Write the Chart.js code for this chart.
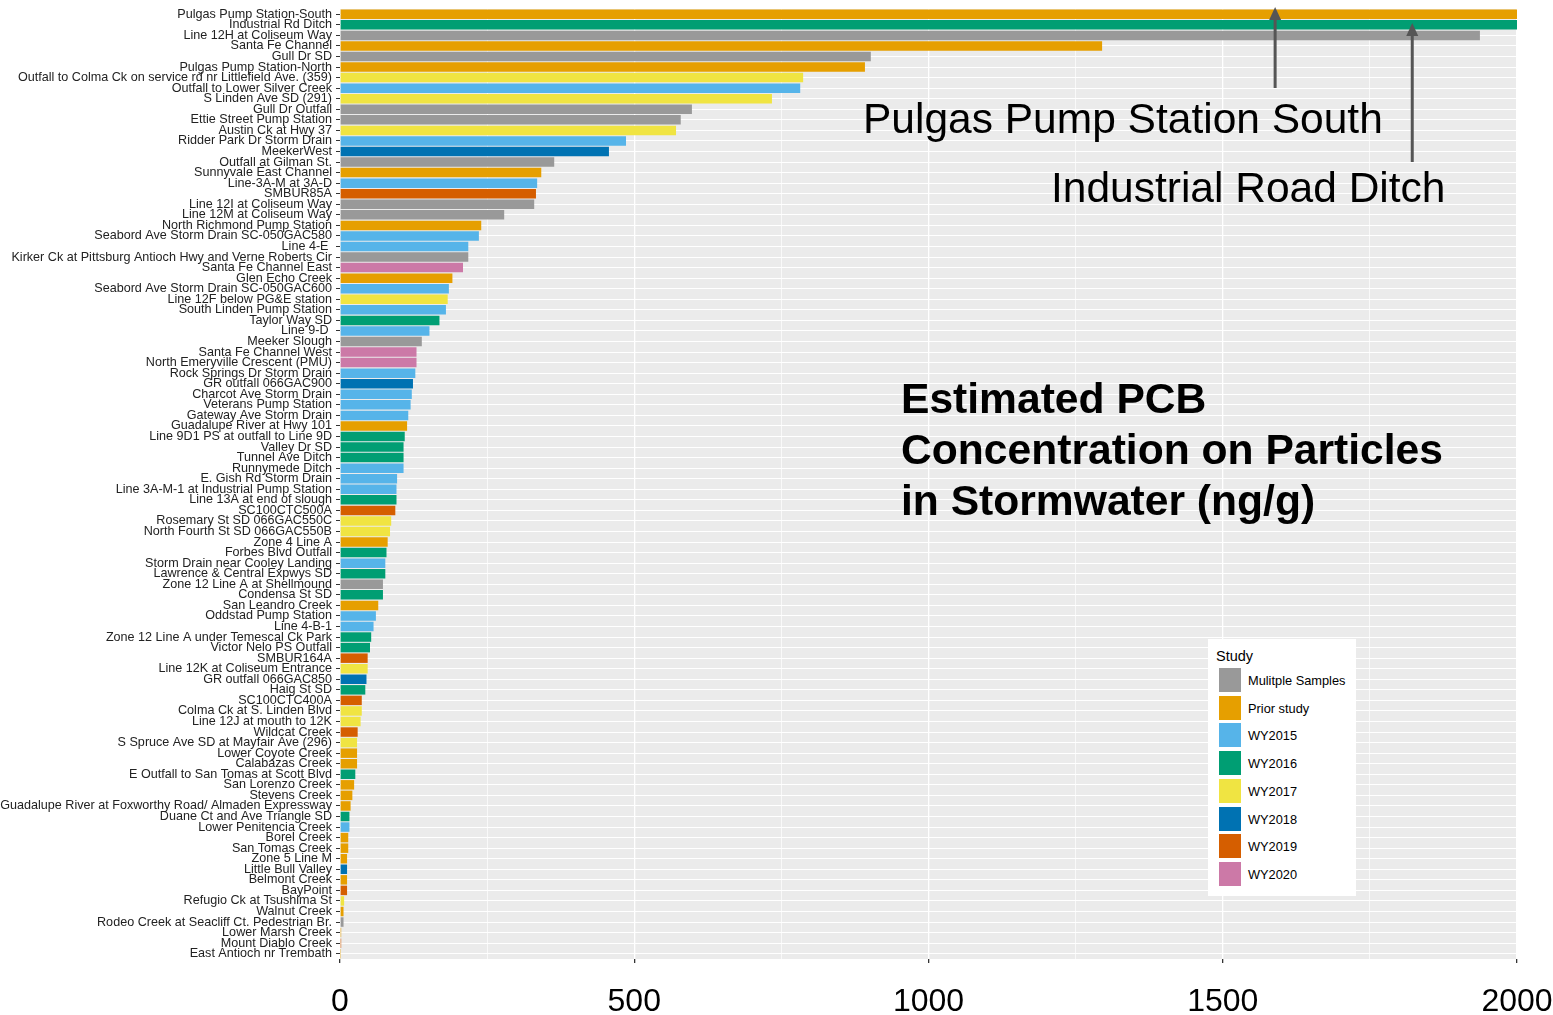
<!DOCTYPE html>
<html>
<head>
<meta charset="utf-8">
<script src="https://cdn.jsdelivr.net/npm/chart.js@4/dist/chart.umd.min.js"></script>
<style>
  html, body { margin: 0; padding: 0; background: #fff; }
  #wrap { position: relative; width: 1553px; height: 1015px; overflow: hidden; }
  canvas { position: absolute; left: 0; top: 0; }
  .ann { position: absolute; font-family: "Liberation Sans", Arial, sans-serif; color: #000; white-space: nowrap; }
  #legend { position: absolute; left: 1208px; top: 639px; width: 148px; height: 257px; background: #fff; font-family: "Liberation Sans", Arial, sans-serif; }
  #legend .title { position: absolute; left: 8px; top: 8px; font-size: 14.5px; line-height: 18px; color: #000; }
  #legend .key { position: absolute; left: 10px; width: 24px; height: 26px; box-sizing: border-box; border: 1px solid #fff; }
  #legend .lab { position: absolute; left: 40px; font-size: 12.8px; line-height: 16px; color: #000; }
</style>
</head>
<body>
<div id="wrap">
  <canvas id="c" width="1553" height="1015"></canvas>
  <div class="ann" style="left:863px; top:95px; font-size:42.5px; line-height:48px;">Pulgas Pump Station South</div>
  <div class="ann" style="left:1051px; top:164px; font-size:42.5px; line-height:48px;">Industrial Road Ditch</div>
  <div class="ann" style="left:901px; top:373px; font-size:42.6px; line-height:51px; font-weight:bold;">Estimated PCB<br>Concentration on Particles<br>in Stormwater (ng/g)</div>
  <div id="legend"></div>
</div>
<script>
const categories = [
  "Pulgas Pump Station-South", "Industrial Rd Ditch", "Line 12H at Coliseum Way", "Santa Fe Channel",
  "Gull Dr SD", "Pulgas Pump Station-North", "Outfall to Colma Ck on service rd nr Littlefield Ave. (359)",
  "Outfall to Lower Silver Creek", "S Linden Ave SD (291)", "Gull Dr Outfall", "Ettie Street Pump Station",
  "Austin Ck at Hwy 37", "Ridder Park Dr Storm Drain", "MeekerWest", "Outfall at Gilman St.",
  "Sunnyvale East Channel", "Line-3A-M at 3A-D", "SMBUR85A", "Line 12I at Coliseum Way",
  "Line 12M at Coliseum Way", "North Richmond Pump Station", "Seabord Ave Storm Drain SC-050GAC580",
  "Line 4-E ", "Kirker Ck at Pittsburg Antioch Hwy and Verne Roberts Cir", "Santa Fe Channel East",
  "Glen Echo Creek", "Seabord Ave Storm Drain SC-050GAC600", "Line 12F below PG&E station",
  "South Linden Pump Station", "Taylor Way SD", "Line 9-D ", "Meeker Slough", "Santa Fe Channel West",
  "North Emeryville Crescent (PMU)", "Rock Springs Dr Storm Drain", "GR outfall 066GAC900",
  "Charcot Ave Storm Drain", "Veterans Pump Station", "Gateway Ave Storm Drain",
  "Guadalupe River at Hwy 101", "Line 9D1 PS at outfall to Line 9D", "Valley Dr SD", "Tunnel Ave Ditch",
  "Runnymede Ditch", "E. Gish Rd Storm Drain", "Line 3A-M-1 at Industrial Pump Station",
  "Line 13A at end of slough", "SC100CTC500A", "Rosemary St SD 066GAC550C", "North Fourth St SD 066GAC550B",
  "Zone 4 Line A", "Forbes Blvd Outfall", "Storm Drain near Cooley Landing", "Lawrence & Central Expwys SD",
  "Zone 12 Line A at Shellmound", "Condensa St SD", "San Leandro Creek", "Oddstad Pump Station",
  "Line 4-B-1", "Zone 12 Line A under Temescal Ck Park", "Victor Nelo PS Outfall", "SMBUR164A",
  "Line 12K at Coliseum Entrance", "GR outfall 066GAC850", "Haig St SD", "SC100CTC400A",
  "Colma Ck at S. Linden Blvd", "Line 12J at mouth to 12K", "Wildcat Creek",
  "S Spruce Ave SD at Mayfair Ave (296)", "Lower Coyote Creek", "Calabazas Creek",
  "E Outfall to San Tomas at Scott Blvd", "San Lorenzo Creek", "Stevens Creek",
  "Guadalupe River at Foxworthy Road/ Almaden Expressway", "Duane Ct and Ave Triangle SD",
  "Lower Penitencia Creek", "Borel Creek", "San Tomas Creek", "Zone 5 Line M", "Little Bull Valley",
  "Belmont Creek", "BayPoint", "Refugio Ck at Tsushima St", "Walnut Creek",
  "Rodeo Creek at Seacliff Ct. Pedestrian Br.", "Lower Marsh Creek", "Mount Diablo Creek",
  "East Antioch nr Trembath"
];

const values = [
  2000, 2000, 1937, 1295, 902, 892, 787, 782, 734, 598,
  579, 571, 486, 457, 364, 342, 335, 333, 330, 279,
  240, 236, 218, 218, 209, 191, 185, 183, 180, 169,
  152, 139, 130, 130, 128, 124, 122, 120, 116, 114,
  110, 108, 108, 108, 97, 96, 96, 94, 87, 85,
  81, 79, 77, 77, 73, 73, 65, 61, 57, 53,
  51, 47, 47, 45, 43, 37, 37, 35, 30, 29,
  29, 29, 26, 24, 21, 18, 16, 16, 14, 14,
  12, 12, 12, 12, 7, 6, 6, 2, 2, 0.5
];

// study index per category: 0 Multiple, 1 Prior, 2 WY2015, 3 WY2016, 4 WY2017, 5 WY2018, 6 WY2019, 7 WY2020
const studies = [
  1, 3, 0, 1, 0, 1, 4, 2, 4, 0,
  0, 4, 2, 5, 0, 1, 2, 6, 0, 0,
  1, 2, 2, 0, 7, 1, 2, 4, 2, 3,
  2, 0, 7, 7, 2, 5, 2, 2, 2, 1,
  3, 3, 3, 2, 2, 2, 3, 6, 4, 4,
  1, 3, 2, 3, 0, 3, 1, 2, 2, 3,
  3, 6, 4, 5, 3, 6, 4, 4, 6, 4,
  1, 1, 3, 1, 1, 1, 3, 2, 1, 1,
  1, 5, 1, 6, 4, 1, 0, 1, 6, 1
];

const studyNames = ["Mulitple Samples", "Prior study", "WY2015", "WY2016", "WY2017", "WY2018", "WY2019", "WY2020"];
const studyColors = ["#999999", "#E69F00", "#56B4E9", "#009E73", "#F0E442", "#0072B2", "#D55E00", "#CC79A7"];

const xTicks = [0, 500, 1000, 1500, 2000];

// Arrow annotations (x in data units, y in pixels)
const arrows = [
  { x: 1589, yFrom: 88, yTo: 7 },
  { x: 1822, yFrom: 162, yTo: 23 }
];

// legend (HTML)
const legend = document.getElementById('legend');
legend.innerHTML = '<div class="title">Study</div>' + studyNames.map((n, i) => {
  const top = 28 + i * 27.7;
  return `<div class="key" style="top:${top}px;background:${studyColors[i]}"></div>` +
         `<div class="lab" style="top:${top + 6}px">${n}</div>`;
}).join('');

const panelBg = {
  id: 'panelBg',
  beforeDraw(chart) {
    const { ctx, chartArea: a } = chart;
    ctx.save();
    ctx.fillStyle = '#EBEBEB';
    ctx.fillRect(a.left, a.top, a.right - a.left, a.bottom - a.top);
    ctx.restore();
  }
};

const arrowPlugin = {
  id: 'arrowPlugin',
  afterDraw(chart) {
    const { ctx } = chart;
    const xs = chart.scales.x;
    ctx.save();
    ctx.strokeStyle = '#555555';
    ctx.fillStyle = '#555555';
    ctx.lineWidth = 3;
    arrows.forEach(a => {
      const px = xs.getPixelForValue(a.x);
      ctx.beginPath();
      ctx.moveTo(px, a.yFrom);
      ctx.lineTo(px, a.yTo + 10);
      ctx.stroke();
      ctx.beginPath();
      ctx.moveTo(px, a.yTo);
      ctx.lineTo(px - 6, a.yTo + 13);
      ctx.lineTo(px + 6, a.yTo + 13);
      ctx.closePath();
      ctx.fill();
    });
    ctx.restore();
  }
};

new Chart(document.getElementById('c'), {
  type: 'bar',
  data: {
    labels: categories,
    datasets: [{
      data: values,
      backgroundColor: studies.map(s => studyColors[s]),
      borderWidth: 0,
      categoryPercentage: 0.9,
      barPercentage: 1.0
    }]
  },
  options: {
    indexAxis: 'y',
    responsive: false,
    animation: false,
    devicePixelRatio: 1,
    layout: { padding: { left: 0, top: 9, right: 36, bottom: 0 } },
    plugins: { legend: { display: false }, tooltip: { enabled: false } },
    scales: {
      x: {
        type: 'linear',
        min: 0,
        max: 2000,
        border: { display: false },
        grid: {
          color: '#FFFFFF',
          lineWidth: c => (c.tick && xTicks.includes(c.tick.value)) ? 1.3 : 0.7,
          tickColor: c => (c.tick && xTicks.includes(c.tick.value)) ? '#333333' : 'rgba(0,0,0,0)',
          tickLength: 4,
          drawTicks: true
        },
        ticks: {
          stepSize: 250,
          autoSkip: false,
          maxRotation: 0,
          padding: 20,
          color: '#000000',
          font: { family: '"Liberation Sans", Arial, sans-serif', size: 32 },
          callback: v => xTicks.includes(v) ? String(v) : ''
        },
        afterFit(scale) {
          scale.height = 56;
          scale.paddingLeft = 0;
          scale.paddingRight = 0;
        }
      },
      y: {
        type: 'category',
        border: { display: false },
        grid: {
          offset: false,
          color: '#FFFFFF',
          lineWidth: 1,
          tickColor: '#333333',
          tickLength: 4
        },
        ticks: {
          autoSkip: false,
          padding: 4,
          color: '#222222',
          font: { family: '"Liberation Sans", Arial, sans-serif', size: 12.6 }
        },
        afterFit(scale) {
          scale.width = 340;
          scale.paddingTop = 0;
          scale.paddingBottom = 0;
        }
      }
    }
  },
  plugins: [panelBg, arrowPlugin]
});
</script>
</body>
</html>
